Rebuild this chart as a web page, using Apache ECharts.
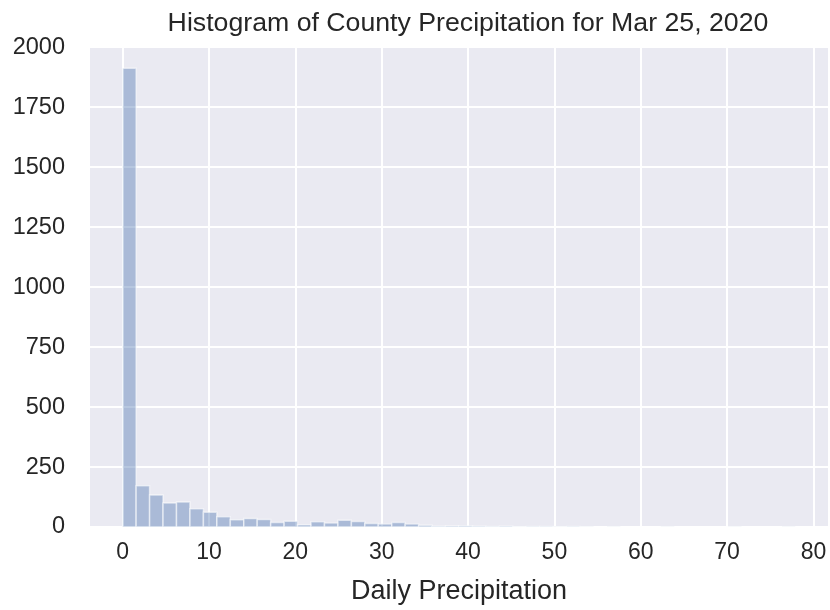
<!DOCTYPE html>
<html>
<head>
<meta charset="utf-8">
<script src="https://cdn.jsdelivr.net/npm/echarts@6/dist/echarts.min.js"></script>
<style>html,body{margin:0;padding:0;background:#fff;}#c{width:830px;height:610px;}</style>
</head>
<body>
<div id="c"></div>
<script>
// Histogram: 50 equal bins spanning [binMin, binMax]
var binMin = 0;
var binMax = 77.9;
var counts = [1912, 172, 133, 100, 104, 76, 62, 43, 30, 35,
              31, 19, 24, 9, 22, 17, 28, 23, 15, 13,
              19, 13, 7, 3, 4, 5, 3, 2, 3, 1,
              2, 2, 1, 2, 1, 0, 1, 0, 0, 0,
              1, 0, 0, 0, 0, 1, 0, 0, 0, 1];
var xTicks = [0, 10, 20, 30, 40, 50, 60, 70, 80];
var yTicks = [0, 250, 500, 750, 1000, 1250, 1500, 1750, 2000];
var titleText = 'Histogram of County Precipitation for Mar 25, 2020';
var xName = 'Daily Precipitation';

var nBins = counts.length;
var bw = (binMax - binMin) / nBins;
var data = counts.map(function (c, i) {
  return [binMin + i * bw, binMin + (i + 1) * bw, c];
});

var chart = echarts.init(document.getElementById('c'), null, {renderer: 'canvas'});
var font = 'Liberation Sans, Arial, sans-serif';
var txt = '#262626';
chart.setOption({
  backgroundColor: '#ffffff',
  animation: false,
  title: {
    text: titleText, left: 463, top: 5, textAlign: 'center',
    textStyle: {fontFamily: font, fontSize: 26.7, fontWeight: 'normal', color: txt}
  },
  grid: {left: 89, right: 1, top: 46, bottom: 81, show: true, backgroundColor: '#EAEAF2', borderWidth: 0},
  xAxis: {
    type: 'value', min: -3.9, max: 81.8, splitNumber: 9,
    name: xName, nameLocation: 'middle', nameGap: 51,
    nameTextStyle: {fontFamily: font, fontSize: 27, color: txt},
    axisLine: {show: false}, axisTick: {show: false},
    axisLabel: {fontFamily: font, fontSize: 23, color: txt, margin: 14, showMinLabel: false, showMaxLabel: false,
      formatter: function (v) { return xTicks.indexOf(v) >= 0 ? String(v) : ''; }},
    splitLine: {show: true, lineStyle: {color: '#ffffff', width: 2}}
  },
  yAxis: {
    type: 'value', min: 0, max: 2005, interval: 250,
    axisLine: {show: false}, axisTick: {show: false},
    axisLabel: {fontFamily: font, fontSize: 23.5, color: txt, margin: 24, showMaxLabel: false,
      formatter: function (v) { return yTicks.indexOf(v) >= 0 ? String(v) : ''; }},
    splitLine: {show: true, lineStyle: {color: '#ffffff', width: 2}}
  },
  series: [{
    type: 'custom',
    data: data,
    encode: {x: [0, 1], y: 2},
    renderItem: function (params, api) {
      var p0 = api.coord([api.value(0), 0]);
      var p1 = api.coord([api.value(1), api.value(2)]);
      return {
        type: 'rect',
        shape: {x: p0[0], y: p1[1], width: p1[0] - p0[0], height: p0[1] - p1[1]},
        style: {fill: 'rgba(76,114,176,0.4)', stroke: 'rgba(255,255,255,0.55)', lineWidth: 1.5}
      };
    }
  }]
});
</script>
</body>
</html>
